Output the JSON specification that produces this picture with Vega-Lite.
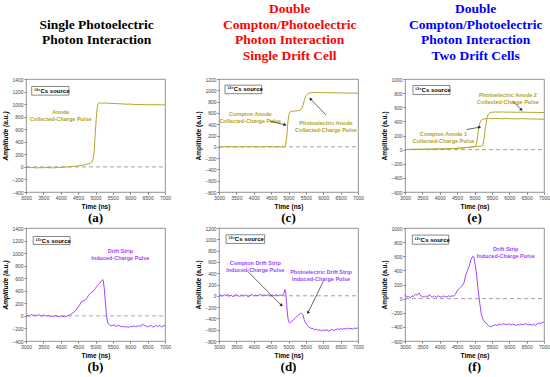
{
"$schema":"https://vega.github.io/schema/vega-lite/v6.json",
"padding":{"left":2,"top":2,"right":3,"bottom":0},
"background":"white",
"config":{
 "font":"Liberation Sans",
 "view":{"stroke":"#777","strokeWidth":0.8},
 "axis":{"labelFontSize":5,"labelColor":"#444","titleFontSize":6.5,"titleFontWeight":"bold","titleColor":"#000","tickSize":2,"tickColor":"#777","domain":false,"grid":false,"labelPadding":1,"titlePadding":3,"labelOverlap":false,"labelFlush":false,"format":"d"}
},
"datasets":{
 "a":[{"t":3000,"v":-8},{"t":3100,"v":-12},{"t":3200,"v":-10},{"t":3300,"v":-15},{"t":3400,"v":-12},{"t":3500,"v":-14},{"t":3600,"v":-10},{"t":3700,"v":-13},{"t":3800,"v":-15},{"t":3900,"v":-10},{"t":4000,"v":-8},{"t":4100,"v":-5},{"t":4200,"v":0},{"t":4300,"v":5},{"t":4400,"v":10},{"t":4500,"v":15},{"t":4600,"v":25},{"t":4700,"v":35},{"t":4800,"v":50},{"t":4850,"v":60},{"t":4900,"v":80},{"t":4930,"v":120},{"t":4960,"v":250},{"t":4990,"v":500},{"t":5020,"v":760},{"t":5050,"v":950},{"t":5080,"v":1015},{"t":5120,"v":1020},{"t":5200,"v":1015},{"t":5300,"v":1018},{"t":5400,"v":1012},{"t":5500,"v":1010},{"t":5600,"v":1008},{"t":5700,"v":1005},{"t":5800,"v":1003},{"t":5900,"v":998},{"t":6000,"v":1000},{"t":6100,"v":995},{"t":6200,"v":992},{"t":6300,"v":995},{"t":6400,"v":990},{"t":6500,"v":992},{"t":6600,"v":988},{"t":6700,"v":990},{"t":6800,"v":992},{"t":6900,"v":988},{"t":7000,"v":990}],
 "c":[{"t":3000,"v":0},{"t":3100,"v":-4},{"t":3200,"v":3},{"t":3300,"v":-2},{"t":3400,"v":2},{"t":3500,"v":-3},{"t":3600,"v":1},{"t":3700,"v":-2},{"t":3800,"v":3},{"t":3900,"v":-1},{"t":4000,"v":2},{"t":4100,"v":-3},{"t":4200,"v":1},{"t":4300,"v":-2},{"t":4400,"v":3},{"t":4500,"v":0},{"t":4600,"v":-2},{"t":4700,"v":2},{"t":4800,"v":0},{"t":4880,"v":3},{"t":4920,"v":30},{"t":4950,"v":180},{"t":4980,"v":420},{"t":5010,"v":570},{"t":5040,"v":615},{"t":5080,"v":628},{"t":5150,"v":632},{"t":5250,"v":636},{"t":5320,"v":645},{"t":5380,"v":670},{"t":5420,"v":740},{"t":5460,"v":840},{"t":5500,"v":905},{"t":5550,"v":940},{"t":5600,"v":952},{"t":5700,"v":958},{"t":5800,"v":962},{"t":5900,"v":960},{"t":6000,"v":958},{"t":6200,"v":957},{"t":6400,"v":955},{"t":6600,"v":953},{"t":6800,"v":950},{"t":7000,"v":948}],
 "e":[{"s":"A","t":3000,"v":3},{"s":"A","t":3100,"v":0},{"s":"A","t":3200,"v":5},{"s":"A","t":3300,"v":2},{"s":"A","t":3400,"v":6},{"s":"A","t":3500,"v":3},{"s":"A","t":3600,"v":7},{"s":"A","t":3700,"v":5},{"s":"A","t":3800,"v":9},{"s":"A","t":3900,"v":7},{"s":"A","t":4000,"v":10},{"s":"A","t":4100,"v":9},{"s":"A","t":4200,"v":12},{"s":"A","t":4300,"v":13},{"s":"A","t":4400,"v":16},{"s":"A","t":4500,"v":18},{"s":"A","t":4600,"v":22},{"s":"A","t":4700,"v":26},{"s":"A","t":4800,"v":30},{"s":"A","t":4900,"v":35},{"s":"A","t":4950,"v":40},{"s":"A","t":5000,"v":45},{"s":"A","t":5040,"v":60},{"s":"A","t":5080,"v":150},{"s":"A","t":5120,"v":300},{"s":"A","t":5160,"v":390},{"s":"A","t":5200,"v":420},{"s":"A","t":5250,"v":432},{"s":"A","t":5300,"v":436},{"s":"A","t":5400,"v":440},{"s":"A","t":5500,"v":438},{"s":"A","t":5600,"v":442},{"s":"A","t":5700,"v":440},{"s":"A","t":5800,"v":437},{"s":"A","t":5900,"v":441},{"s":"A","t":6000,"v":438},{"s":"A","t":6200,"v":436},{"s":"A","t":6400,"v":438},{"s":"A","t":6600,"v":434},{"s":"A","t":6800,"v":433},{"s":"A","t":7000,"v":430},
  {"s":"B","t":3000,"v":5},{"s":"B","t":3100,"v":2},{"s":"B","t":3200,"v":4},{"s":"B","t":3300,"v":6},{"s":"B","t":3400,"v":3},{"s":"B","t":3500,"v":7},{"s":"B","t":3600,"v":5},{"s":"B","t":3700,"v":8},{"s":"B","t":3800,"v":6},{"s":"B","t":3900,"v":10},{"s":"B","t":4000,"v":8},{"s":"B","t":4100,"v":12},{"s":"B","t":4200,"v":11},{"s":"B","t":4300,"v":15},{"s":"B","t":4400,"v":15},{"s":"B","t":4500,"v":20},{"s":"B","t":4600,"v":21},{"s":"B","t":4700,"v":28},{"s":"B","t":4800,"v":31},{"s":"B","t":4900,"v":36},{"s":"B","t":5000,"v":42},{"s":"B","t":5100,"v":46},{"s":"B","t":5200,"v":50},{"s":"B","t":5240,"v":60},{"s":"B","t":5280,"v":170},{"s":"B","t":5320,"v":330},{"s":"B","t":5360,"v":450},{"s":"B","t":5400,"v":505},{"s":"B","t":5450,"v":525},{"s":"B","t":5500,"v":530},{"s":"B","t":5600,"v":533},{"s":"B","t":5700,"v":531},{"s":"B","t":5800,"v":534},{"s":"B","t":5900,"v":530},{"s":"B","t":6000,"v":532},{"s":"B","t":6200,"v":529},{"s":"B","t":6400,"v":531},{"s":"B","t":6600,"v":528},{"s":"B","t":6800,"v":527},{"s":"B","t":7000,"v":525}],
 "b":[{"t":3000,"v":-5},{"t":3050,"v":10},{"t":3100,"v":-10},{"t":3150,"v":25},{"t":3200,"v":5},{"t":3250,"v":15},{"t":3300,"v":0},{"t":3350,"v":20},{"t":3400,"v":10},{"t":3450,"v":-5},{"t":3500,"v":15},{"t":3550,"v":5},{"t":3600,"v":-5},{"t":3650,"v":10},{"t":3700,"v":-10},{"t":3750,"v":0},{"t":3800,"v":-10},{"t":3850,"v":5},{"t":3900,"v":-5},{"t":3950,"v":-15},{"t":4000,"v":0},{"t":4050,"v":-10},{"t":4100,"v":-5},{"t":4150,"v":-15},{"t":4200,"v":5},{"t":4250,"v":10},{"t":4300,"v":30},{"t":4350,"v":50},{"t":4400,"v":70},{"t":4450,"v":100},{"t":4500,"v":140},{"t":4550,"v":180},{"t":4600,"v":230},{"t":4650,"v":240},{"t":4700,"v":250},{"t":4750,"v":280},{"t":4800,"v":330},{"t":4850,"v":360},{"t":4900,"v":380},{"t":4950,"v":400},{"t":5000,"v":440},{"t":5050,"v":480},{"t":5100,"v":510},{"t":5150,"v":540},{"t":5200,"v":580},{"t":5220,"v":570},{"t":5250,"v":450},{"t":5280,"v":250},{"t":5310,"v":50},{"t":5340,"v":-80},{"t":5370,"v":-130},{"t":5400,"v":-140},{"t":5450,"v":-160},{"t":5500,"v":-150},{"t":5550,"v":-145},{"t":5600,"v":-170},{"t":5650,"v":-150},{"t":5700,"v":-160},{"t":5750,"v":-175},{"t":5800,"v":-165},{"t":5850,"v":-180},{"t":5900,"v":-170},{"t":5950,"v":-185},{"t":6000,"v":-165},{"t":6050,"v":-175},{"t":6100,"v":-160},{"t":6150,"v":-170},{"t":6200,"v":-165},{"t":6250,"v":-155},{"t":6300,"v":-170},{"t":6350,"v":-130},{"t":6400,"v":-150},{"t":6450,"v":-160},{"t":6500,"v":-175},{"t":6550,"v":-160},{"t":6600,"v":-150},{"t":6650,"v":-180},{"t":6700,"v":-165},{"t":6750,"v":-155},{"t":6800,"v":-170},{"t":6850,"v":-150},{"t":6900,"v":-180},{"t":6950,"v":-160},{"t":7000,"v":-150}],
 "d":[{"t":3000,"v":0},{"t":3050,"v":15},{"t":3100,"v":-10},{"t":3150,"v":20},{"t":3200,"v":5},{"t":3250,"v":25},{"t":3300,"v":-5},{"t":3350,"v":10},{"t":3400,"v":-15},{"t":3450,"v":5},{"t":3500,"v":20},{"t":3550,"v":0},{"t":3600,"v":-10},{"t":3650,"v":15},{"t":3700,"v":-5},{"t":3750,"v":20},{"t":3800,"v":0},{"t":3850,"v":-15},{"t":3900,"v":10},{"t":3950,"v":20},{"t":4000,"v":-5},{"t":4050,"v":15},{"t":4100,"v":0},{"t":4150,"v":10},{"t":4200,"v":25},{"t":4250,"v":5},{"t":4300,"v":15},{"t":4350,"v":0},{"t":4400,"v":20},{"t":4450,"v":10},{"t":4500,"v":-5},{"t":4550,"v":15},{"t":4600,"v":5},{"t":4650,"v":20},{"t":4700,"v":0},{"t":4750,"v":15},{"t":4800,"v":5},{"t":4850,"v":20},{"t":4880,"v":60},{"t":4900,"v":110},{"t":4920,"v":60},{"t":4940,"v":-100},{"t":4960,"v":-250},{"t":4980,"v":-380},{"t":5000,"v":-450},{"t":5030,"v":-480},{"t":5060,"v":-470},{"t":5100,"v":-450},{"t":5150,"v":-420},{"t":5200,"v":-390},{"t":5250,"v":-360},{"t":5300,"v":-330},{"t":5350,"v":-310},{"t":5380,"v":-310},{"t":5420,"v":-340},{"t":5450,"v":-420},{"t":5500,"v":-490},{"t":5550,"v":-530},{"t":5600,"v":-560},{"t":5650,"v":-575},{"t":5700,"v":-580},{"t":5750,"v":-600},{"t":5800,"v":-590},{"t":5850,"v":-610},{"t":5900,"v":-600},{"t":5950,"v":-620},{"t":6000,"v":-605},{"t":6050,"v":-615},{"t":6100,"v":-600},{"t":6150,"v":-620},{"t":6200,"v":-610},{"t":6250,"v":-595},{"t":6300,"v":-615},{"t":6350,"v":-600},{"t":6400,"v":-585},{"t":6450,"v":-600},{"t":6500,"v":-580},{"t":6550,"v":-595},{"t":6600,"v":-575},{"t":6650,"v":-590},{"t":6700,"v":-570},{"t":6750,"v":-585},{"t":6800,"v":-575},{"t":6850,"v":-590},{"t":6900,"v":-570},{"t":6950,"v":-580},{"t":7000,"v":-565}],
 "f":[{"t":3000,"v":60},{"t":3050,"v":20},{"t":3100,"v":30},{"t":3150,"v":10},{"t":3200,"v":40},{"t":3250,"v":30},{"t":3300,"v":60},{"t":3350,"v":50},{"t":3400,"v":80},{"t":3450,"v":40},{"t":3500,"v":30},{"t":3550,"v":20},{"t":3600,"v":40},{"t":3650,"v":20},{"t":3700,"v":60},{"t":3750,"v":30},{"t":3800,"v":20},{"t":3850,"v":40},{"t":3900,"v":20},{"t":3950,"v":40},{"t":4000,"v":30},{"t":4050,"v":20},{"t":4100,"v":40},{"t":4150,"v":30},{"t":4200,"v":20},{"t":4250,"v":40},{"t":4300,"v":30},{"t":4350,"v":40},{"t":4400,"v":35},{"t":4450,"v":60},{"t":4500,"v":110},{"t":4550,"v":140},{"t":4600,"v":160},{"t":4650,"v":190},{"t":4700,"v":230},{"t":4750,"v":340},{"t":4800,"v":400},{"t":4850,"v":460},{"t":4900,"v":560},{"t":4950,"v":600},{"t":4980,"v":590},{"t":5000,"v":540},{"t":5050,"v":380},{"t":5100,"v":150},{"t":5150,"v":-60},{"t":5200,"v":-230},{"t":5250,"v":-300},{"t":5300,"v":-330},{"t":5350,"v":-360},{"t":5400,"v":-380},{"t":5450,"v":-400},{"t":5500,"v":-390},{"t":5550,"v":-380},{"t":5600,"v":-370},{"t":5650,"v":-380},{"t":5700,"v":-360},{"t":5750,"v":-370},{"t":5800,"v":-355},{"t":5850,"v":-365},{"t":5900,"v":-360},{"t":5950,"v":-370},{"t":6000,"v":-355},{"t":6050,"v":-375},{"t":6100,"v":-360},{"t":6150,"v":-370},{"t":6200,"v":-380},{"t":6250,"v":-365},{"t":6300,"v":-375},{"t":6350,"v":-360},{"t":6400,"v":-370},{"t":6450,"v":-355},{"t":6500,"v":-360},{"t":6550,"v":-370},{"t":6600,"v":-365},{"t":6650,"v":-375},{"t":6700,"v":-360},{"t":6750,"v":-380},{"t":6800,"v":-360},{"t":6850,"v":-345},{"t":6900,"v":-350},{"t":6950,"v":-340},{"t":7000,"v":-330}]
},
"spacing":17,
"hconcat":[
{"spacing":24,
 "hconcat":[
 {"title":{"text":[" ","Single Photoelectric","Photon Interaction"," "],"color":"#000","font":"Liberation Serif","fontSize":13.5,"fontWeight":"bold","lineHeight":15.7,"offset":14,"anchor":"middle","frame":"bounds","dx":10},
  "spacing":0,
  "vconcat":[
  {"width":139,"height":113,
   "title":{"text":"(a)","orient":"bottom","font":"Liberation Serif","fontSize":13,"fontWeight":"bold","color":"#000","offset":2,"anchor":"middle","frame":"group"},
   "encoding":{"x":{"field":"t","type":"quantitative","scale":{"domain":[3000,7000],"nice":false},"axis":{"title":"Time (ns)","values":[3000,3500,4000,4500,5000,5500,6000,6500,7000]}},"y":{"field":"v","type":"quantitative","scale":{"domain":[-400,1400],"nice":false},"axis":{"title":"Amplitude (a.u.)","titleFontStyle":"italic","values":[-400,-200,0,200,400,600,800,1000,1200,1400]}}},
   "layer":[
    {"data":{"values":[{"t":3000,"t2":7000,"v":0}]},"mark":{"type":"rule","color":"#888","strokeDash":[4,3],"strokeWidth":0.8},"encoding":{"x2":{"field":"t2"}}},
    {"data":{"name":"a"},"mark":{"type":"line","color":"#b5a62b","strokeWidth":1},"encoding":{}},
    {"data":{"values":[{"t":3164,"t2":4237,"v":1281,"v2":1143}]},"mark":{"type":"rect","fill":"white","stroke":"#555","strokeWidth":0.7},"encoding":{"x2":{"field":"t2"},"y2":{"field":"v2"}}},
    {"data":{"values":[{"t":3230,"v":1212,"label":"¹³⁷Cs source"}]},"mark":{"type":"text","align":"left","baseline":"middle","fontSize":6,"fontWeight":"bold","color":"#000"},"encoding":{"text":{"field":"label"}}},
    {"data":{"values":[{"t":4000,"v":880,"label":"Anode\nCollected-Charge Pulse"}]},"mark":{"type":"text","lineBreak":"\n","lineHeight":7,"baseline":"middle","fontSize":5.5,"fontWeight":"bold","color":"#b3a125"},"encoding":{"text":{"field":"label"}}}
   ]},
  {"width":139,"height":113,
   "title":{"text":"(b)","orient":"bottom","font":"Liberation Serif","fontSize":13,"fontWeight":"bold","color":"#000","offset":2,"anchor":"middle","frame":"group"},
   "encoding":{"x":{"field":"t","type":"quantitative","scale":{"domain":[3000,7000],"nice":false},"axis":{"title":"Time (ns)","values":[3000,3500,4000,4500,5000,5500,6000,6500,7000]}},"y":{"field":"v","type":"quantitative","scale":{"domain":[-400,1400],"nice":false},"axis":{"title":"Amplitude (a.u.)","titleFontStyle":"italic","values":[-400,-200,0,200,400,600,800,1000,1200,1400]}}},
   "layer":[
    {"data":{"values":[{"t":3000,"t2":7000,"v":0}]},"mark":{"type":"rule","color":"#aaa","strokeDash":[4,3],"strokeWidth":1},"encoding":{"x2":{"field":"t2"}}},
    {"data":{"name":"b"},"mark":{"type":"line","color":"#a044ff","strokeWidth":1},"encoding":{}},
    {"data":{"values":[{"t":3207,"t2":4267,"v":1265,"v2":1138}]},"mark":{"type":"rect","fill":"white","stroke":"#555","strokeWidth":0.7},"encoding":{"x2":{"field":"t2"},"y2":{"field":"v2"}}},
    {"data":{"values":[{"t":3270,"v":1200,"label":"¹³⁷Cs source"}]},"mark":{"type":"text","align":"left","baseline":"middle","fontSize":6,"fontWeight":"bold","color":"#000"},"encoding":{"text":{"field":"label"}}},
    {"data":{"values":[{"t":5715,"v":1028,"label":"Drift Strip\nInduced-Charge Pulse"}]},"mark":{"type":"text","lineBreak":"\n","lineHeight":7,"baseline":"middle","fontSize":5.5,"fontWeight":"bold","color":"#a044ff"},"encoding":{"text":{"field":"label"}}}
   ]}
 ]},
 {"title":{"text":["Double","Compton/Photoelectric","Photon Interaction","Single Drift Cell"],"color":"#ff0000","font":"Liberation Serif","fontSize":13.5,"fontWeight":"bold","lineHeight":15.7,"offset":14,"anchor":"middle","frame":"bounds","dx":10},
  "spacing":0,
  "vconcat":[
  {"width":139,"height":113,
   "title":{"text":"(c)","orient":"bottom","font":"Liberation Serif","fontSize":13,"fontWeight":"bold","color":"#000","offset":2,"anchor":"middle","frame":"group"},
   "encoding":{"x":{"field":"t","type":"quantitative","scale":{"domain":[3000,7000],"nice":false},"axis":{"title":"Time (ns)","values":[3000,3500,4000,4500,5000,5500,6000,6500,7000]}},"y":{"field":"v","type":"quantitative","scale":{"domain":[-800,1200],"nice":false},"axis":{"title":"Amplitude (a.u.)","values":[-800,-600,-400,-200,0,200,400,600,800,1000,1200]}}},
   "layer":[
    {"data":{"values":[{"t":3000,"t2":7000,"v":0}]},"mark":{"type":"rule","color":"#888","strokeDash":[4,3],"strokeWidth":0.8},"encoding":{"x2":{"field":"t2"}}},
    {"data":{"name":"c"},"mark":{"type":"line","color":"#b5a62b","strokeWidth":1},"encoding":{}},
    {"data":{"values":[{"t":3173,"t2":4228,"v":1091,"v2":940}]},"mark":{"type":"rect","fill":"white","stroke":"#555","strokeWidth":0.7},"encoding":{"x2":{"field":"t2"},"y2":{"field":"v2"}}},
    {"data":{"values":[{"t":3240,"v":1015,"label":"¹³⁷Cs source"}]},"mark":{"type":"text","align":"left","baseline":"middle","fontSize":6,"fontWeight":"bold","color":"#000"},"encoding":{"text":{"field":"label"}}},
    {"data":{"values":[{"t":3900,"v":588,"label":"Compton Anode\nCollected-Charge Pulse"},{"t":6079,"v":425,"label":"Photoelectric Anode\nCollected-Charge Pulse"}]},"mark":{"type":"text","lineBreak":"\n","lineHeight":7,"baseline":"middle","fontSize":5.5,"fontWeight":"bold","color":"#b3a125"},"encoding":{"text":{"field":"label"}}},
    {"data":{"values":[{"t":4477,"v":455,"t2":4900,"v2":388},{"t":6079,"v":564,"t2":5630,"v2":850}]},"mark":{"type":"rule","color":"#222","strokeWidth":0.7},"encoding":{"x2":{"field":"t2"},"y2":{"field":"v2"}}},
    {"data":{"values":[{"t":4900,"v":388}]},"mark":{"type":"point","shape":"triangle-up","filled":true,"color":"#222","opacity":1,"size":12,"angle":104},"encoding":{}},
    {"data":{"values":[{"t":5630,"v":850}]},"mark":{"type":"point","shape":"triangle-up","filled":true,"color":"#222","opacity":1,"size":12,"angle":316},"encoding":{}}
   ]},
  {"width":139,"height":113,
   "title":{"text":"(d)","orient":"bottom","font":"Liberation Serif","fontSize":13,"fontWeight":"bold","color":"#000","offset":2,"anchor":"middle","frame":"group"},
   "encoding":{"x":{"field":"t","type":"quantitative","scale":{"domain":[3000,7000],"nice":false},"axis":{"title":"Time (ns)","values":[3000,3500,4000,4500,5000,5500,6000,6500,7000]}},"y":{"field":"v","type":"quantitative","scale":{"domain":[-800,1200],"nice":false},"axis":{"title":"Amplitude (a.u.)","values":[-800,-600,-400,-200,0,200,400,600,800,1000,1200]}}},
   "layer":[
    {"data":{"values":[{"t":3000,"t2":7000,"v":0}]},"mark":{"type":"rule","color":"#888","strokeDash":[4,3],"strokeWidth":0.8},"encoding":{"x2":{"field":"t2"}}},
    {"data":{"name":"d"},"mark":{"type":"line","color":"#a044ff","strokeWidth":1},"encoding":{}},
    {"data":{"values":[{"t":3203,"t2":4313,"v":1080,"v2":927}]},"mark":{"type":"rect","fill":"white","stroke":"#555","strokeWidth":0.7},"encoding":{"x2":{"field":"t2"},"y2":{"field":"v2"}}},
    {"data":{"values":[{"t":3270,"v":1003,"label":"¹³⁷Cs source"}]},"mark":{"type":"text","align":"left","baseline":"middle","fontSize":6,"fontWeight":"bold","color":"#000"},"encoding":{"text":{"field":"label"}}},
    {"data":{"values":[{"t":4043,"v":575,"label":"Compton Drift Strip\nInduced-Charge Pulse"},{"t":5936,"v":421,"label":"Photoelectric Drift Strip\nInduced-Charge Pulse"}]},"mark":{"type":"text","lineBreak":"\n","lineHeight":7,"baseline":"middle","fontSize":5.5,"fontWeight":"bold","color":"#a044ff"},"encoding":{"text":{"field":"label"}}},
    {"data":{"values":[{"t":3830,"v":430,"t2":4800,"v2":-170},{"t":6005,"v":261,"t2":5560,"v2":-300}]},"mark":{"type":"rule","color":"#222","strokeWidth":0.7},"encoding":{"x2":{"field":"t2"},"y2":{"field":"v2"}}},
    {"data":{"values":[{"t":4800,"v":-170}]},"mark":{"type":"point","shape":"triangle-up","filled":true,"color":"#222","opacity":1,"size":12,"angle":135},"encoding":{}},
    {"data":{"values":[{"t":5560,"v":-300}]},"mark":{"type":"point","shape":"triangle-up","filled":true,"color":"#222","opacity":1,"size":12,"angle":206},"encoding":{}}
   ]}
 ]}
 ]},
 {"title":{"text":["Double","Compton/Photoelectric","Photon Interaction","Two Drift Cells"],"color":"#0000ff","font":"Liberation Serif","fontSize":13.5,"fontWeight":"bold","lineHeight":15.7,"offset":14,"anchor":"middle","frame":"bounds","dx":10},
  "spacing":0,
  "vconcat":[
  {"width":139,"height":113,
   "title":{"text":"(e)","orient":"bottom","font":"Liberation Serif","fontSize":13,"fontWeight":"bold","color":"#000","offset":2,"anchor":"middle","frame":"group"},
   "encoding":{"x":{"field":"t","type":"quantitative","scale":{"domain":[3000,7000],"nice":false},"axis":{"title":"Time (ns)","values":[3000,3500,4000,4500,5000,5500,6000,6500,7000]}},"y":{"field":"v","type":"quantitative","scale":{"domain":[-600,1000],"nice":false},"axis":{"title":"Amplitude (a.u.)","values":[-600,-400,-200,0,200,400,600,800,1000]}}},
   "layer":[
    {"data":{"values":[{"t":3000,"t2":7000,"v":0}]},"mark":{"type":"rule","color":"#888","strokeDash":[4,3],"strokeWidth":0.8},"encoding":{"x2":{"field":"t2"}}},
    {"data":{"name":"e"},"mark":{"type":"line","color":"#b5a62b","strokeWidth":1},"encoding":{"detail":{"field":"s","type":"nominal"}}},
    {"data":{"values":[{"t":3229,"t2":4294,"v":908,"v2":780}]},"mark":{"type":"rect","fill":"white","stroke":"#555","strokeWidth":0.7},"encoding":{"x2":{"field":"t2"},"y2":{"field":"v2"}}},
    {"data":{"values":[{"t":3290,"v":845,"label":"¹³⁷Cs source"}]},"mark":{"type":"text","align":"left","baseline":"middle","fontSize":6,"fontWeight":"bold","color":"#000"},"encoding":{"text":{"field":"label"}}},
    {"data":{"values":[{"t":5963,"v":775,"label":"Photoelectric Anode 2\nCollected-Charge Pulse"},{"t":4105,"v":222,"label":"Compton Anode 1\nCollected-Charge Pulse"}]},"mark":{"type":"text","lineBreak":"\n","lineHeight":7,"baseline":"middle","fontSize":5.5,"fontWeight":"bold","color":"#b3a125"},"encoding":{"text":{"field":"label"}}},
    {"data":{"values":[{"t":6105,"v":685,"t2":6350,"v2":565},{"t":4771,"v":284,"t2":5150,"v2":318}]},"mark":{"type":"rule","color":"#222","strokeWidth":0.7},"encoding":{"x2":{"field":"t2"},"y2":{"field":"v2"}}},
    {"data":{"values":[{"t":6350,"v":565}]},"mark":{"type":"point","shape":"triangle-up","filled":true,"color":"#222","opacity":1,"size":12,"angle":125},"encoding":{}},
    {"data":{"values":[{"t":5150,"v":318}]},"mark":{"type":"point","shape":"triangle-up","filled":true,"color":"#222","opacity":1,"size":12,"angle":81},"encoding":{}}
   ]},
  {"width":139,"height":113,
   "title":{"text":"(f)","orient":"bottom","font":"Liberation Serif","fontSize":13,"fontWeight":"bold","color":"#000","offset":2,"anchor":"middle","frame":"group"},
   "encoding":{"x":{"field":"t","type":"quantitative","scale":{"domain":[3000,7000],"nice":false},"axis":{"title":"Time (ns)","values":[3000,3500,4000,4500,5000,5500,6000,6500,7000]}},"y":{"field":"v","type":"quantitative","scale":{"domain":[-600,1000],"nice":false},"axis":{"title":"Amplitude (a.u.)","values":[-600,-400,-200,0,200,400,600,800,1000]}}},
   "layer":[
    {"data":{"values":[{"t":3000,"t2":7000,"v":0}]},"mark":{"type":"rule","color":"#888","strokeDash":[4,3],"strokeWidth":0.8},"encoding":{"x2":{"field":"t2"}}},
    {"data":{"name":"f"},"mark":{"type":"line","color":"#a044ff","strokeWidth":1},"encoding":{}},
    {"data":{"values":[{"t":3212,"t2":4255,"v":900,"v2":771}]},"mark":{"type":"rect","fill":"white","stroke":"#555","strokeWidth":0.7},"encoding":{"x2":{"field":"t2"},"y2":{"field":"v2"}}},
    {"data":{"values":[{"t":3270,"v":836,"label":"¹³⁷Cs source"}]},"mark":{"type":"text","align":"left","baseline":"middle","fontSize":6,"fontWeight":"bold","color":"#000"},"encoding":{"text":{"field":"label"}}},
    {"data":{"values":[{"t":5899,"v":699,"label":"Drift Strip\nInduced-Charge Pulse"}]},"mark":{"type":"text","lineBreak":"\n","lineHeight":7,"baseline":"middle","fontSize":5.5,"fontWeight":"bold","color":"#a044ff"},"encoding":{"text":{"field":"label"}}}
   ]}
 ]}
]
}
